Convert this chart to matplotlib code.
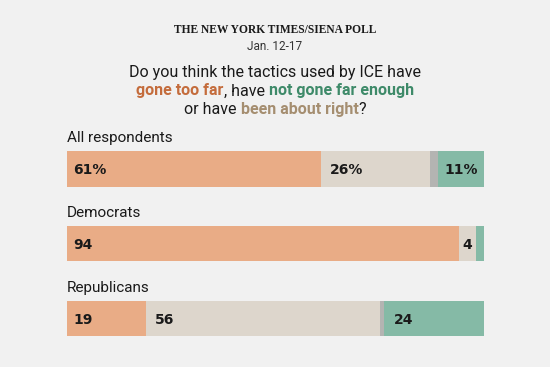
import matplotlib
matplotlib.use('Agg')
import matplotlib.pyplot as plt
import numpy as np

groups = ["All respondents", "Democrats", "Republicans"]
too_far = [61, 94, 19]
about_right = [26, 4, 56]
unsure = [2, 0, 1]
not_enough = [11, 2, 24]
labels_too_far = ["61%", "94", "19"]
labels_about_right = ["26%", "4", "56"]
labels_not_enough = ["11%", "", "24"]

W, H = 550, 367
BG = '#f1f1f1'
C_FAR = '#e9ac86'
C_RIGHT = '#ddd6cc'
C_UNSURE = '#b4b4b2'
C_ENOUGH = '#85baa6'
T_FAR = '#c46c3c'
T_ENOUGH = '#3e8a69'
T_RIGHT = '#a58e70'
SANS = 'Roboto'

fig = plt.figure(figsize=(W / 100, H / 100), dpi=100)
fig.patch.set_facecolor(BG)
renderer = fig.canvas.get_renderer()

# Header
fig.text(0.5, 1 - 33 / H, "THE NEW YORK TIMES/SIENA POLL", ha='center', va='baseline',
         fontsize=8.3, fontweight='bold', family='Liberation Serif', color='#1a1a1a')
fig.text(0.5, 1 - 50 / H, "Jan. 12-17", ha='center', va='baseline',
         fontsize=8.5, family=SANS, color='#333333')

QS = 11.5


def width_of(s, **kw):
    t = fig.text(0, 0, s, fontsize=QS, family=SANS, **kw)
    w = t.get_window_extent(renderer).width
    t.remove()
    return w


space_w = width_of("x x") - width_of("xx")


def centered_line(parts, y_px):
    texts = []
    widths = []
    for s, color, weight, gap in parts:
        t = fig.text(0, 1 - y_px / H, s, color=color, fontsize=QS, fontweight=weight,
                     family=SANS, ha='left', va='baseline')
        texts.append((t, gap))
        widths.append(t.get_window_extent(renderer).width)
    total = sum(widths) + sum(space_w for _, g in texts if g)
    x = (W - total) / 2
    for (t, gap), w in zip(texts, widths):
        if gap:
            x += space_w
        t.set_x(x / W)
        x += w


centered_line([("Do you think the tactics used by ICE have", '#1a1a1a', 'normal', False)], 77)
centered_line([("gone too far", T_FAR, 'bold', False),
               (", have", '#1a1a1a', 'normal', False),
               ("not gone far enough", T_ENOUGH, 'bold', True)], 95.5)
centered_line([("or have", '#1a1a1a', 'normal', False),
               ("been about right", T_RIGHT, 'bold', True),
               ("?", '#1a1a1a', 'normal', False)], 114)

# Bars
ax = fig.add_axes([67 / W, 1 - 356 / H, (484 - 67) / W, (356 - 131.6) / H])
ax.set_xlim(0, 100)
ax.set_ylim(2.5, -0.5)
ax.axis('off')
ax.patch.set_alpha(0)

y = np.arange(len(groups))
h = 0.468
left = np.zeros(len(groups))
series = [too_far, about_right, unsure, not_enough]
cols = [C_FAR, C_RIGHT, C_UNSURE, C_ENOUGH]
starts = []
for vals, col in zip(series, cols):
    vals = np.array(vals, dtype=float)
    ax.barh(y, vals, left=left, height=h, color=col, linewidth=0)
    starts.append(left.copy())
    left = left + vals

lab_kw = dict(fontsize=10, fontweight='bold', family='DejaVu Sans', color='#1a1a1a', va='center')
for i in range(len(groups)):
    ax.text(1.5, i + 0.02, labels_too_far[i], ha='left', **lab_kw)
    s = starts[1][i]
    if about_right[i] < 8:
        ax.text(s + about_right[i] - 0.9, i + 0.02, labels_about_right[i], ha='right', **lab_kw)
    else:
        ax.text(s + 2.0, i + 0.02, labels_about_right[i], ha='left', **lab_kw)
    if labels_not_enough[i]:
        ax.text(starts[3][i] + (1.4 if not_enough[i] < 15 else 2.3), i + 0.02,
                labels_not_enough[i], ha='left', **lab_kw)
    ax.text(0, i - 0.36, groups[i], ha='left', va='baseline', fontsize=11,
            family=SANS, color='#1a1a1a', clip_on=False)

fig.savefig('out.png', dpi=100, facecolor=BG)
